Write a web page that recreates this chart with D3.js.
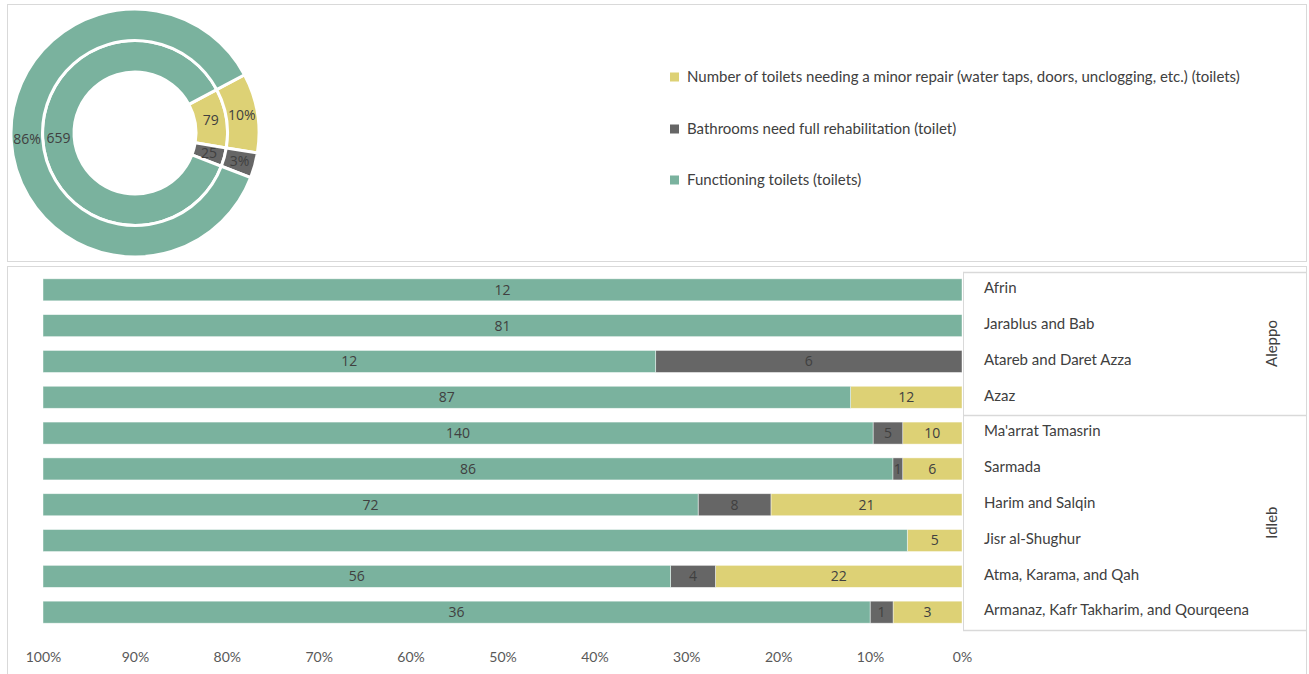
<!DOCTYPE html>
<html>
<head>
<meta charset="utf-8">
<script src="https://cdn.jsdelivr.net/npm/d3@7"></script>
<style>
  body { margin: 0; background: #fff; }
  svg { display: block; }
</style>
</head>
<body>
<svg id="chart" width="1309" height="674"></svg>
<script>
// ---------- DATA ----------
const seriesNames = [
  "Number of toilets needing a minor repair (water taps, doors, unclogging, etc.) (toilets)",
  "Bathrooms need full rehabilitation (toilet)",
  "Functioning toilets (toilets)"
];
const seriesKeys = ["minor", "full", "functioning"];
const seriesColors = ["#DDD175", "#666666", "#7AB29E"];

// donut totals (inner ring: counts, outer ring: shares)
const donutValues = [79, 25, 659];

// bar chart
const regions = ["Afrin", "Jarablus and Bab", "Atareb and Daret Azza", "Azaz",
  "Ma'arrat Tamasrin", "Sarmada", "Harim and Salqin", "Jisr al-Shughur",
  "Atma, Karama, and Qah", "Armanaz, Kafr Takharim, and Qourqeena"];
const governorates = ["Aleppo", "Aleppo", "Aleppo", "Aleppo",
  "Idleb", "Idleb", "Idleb", "Idleb", "Idleb", "Idleb"];
const minorRepair = [0, 0, 0, 12, 10, 6, 21, 5, 22, 3];
const fullRehab   = [0, 0, 6, 0, 5, 1, 8, 0, 4, 1];
const functioning = [12, 81, 12, 87, 140, 86, 72, 79, 56, 36];
const functioningLabelShown = [true, true, true, true, true, true, true, false, true, true];
const tickValues = [1, 0.9, 0.8, 0.7, 0.6, 0.5, 0.4, 0.3, 0.2, 0.1, 0];

// ---------- DRAW ----------
const svg = d3.select("#chart");
const labelFont = "'Open Sans', sans-serif";
const textFont = "Lato, sans-serif";
const borderCol = "#D9D9D9";

// panels
svg.append("rect").attr("x", 7.5).attr("y", 4.5).attr("width", 1299).attr("height", 257)
  .attr("fill", "none").attr("stroke", borderCol);
svg.append("rect").attr("x", 7.5).attr("y", 266.5).attr("width", 1299).attr("height", 420)
  .attr("fill", "none").attr("stroke", borderCol);

// ---- donut ----
const cx = 135, cy = 133;
const pie = d3.pie().sort(null).value(d => d)
  .startAngle(62 * Math.PI / 180).endAngle(62 * Math.PI / 180 + 2 * Math.PI);
const arcsData = pie(donutValues);
const total = d3.sum(donutValues);
const rings = [
  { inner: 61, outer: 92.5, label: d => d.data },
  { inner: 92.5, outer: 124, label: d => Math.round(d.data / total * 100) + "%" }
];
const gD = svg.append("g").attr("transform", `translate(${cx},${cy})`);
rings.forEach(r => {
  const arc = d3.arc().innerRadius(r.inner).outerRadius(r.outer);
  gD.selectAll(null).data(arcsData).enter().append("path")
    .attr("d", arc)
    .attr("fill", (d, i) => seriesColors[i])
    .attr("stroke", "#fff").attr("stroke-width", 3);
  gD.selectAll(null).data(arcsData).enter().append("text")
    .attr("transform", d => `translate(${arc.centroid(d)})`)
    .attr("text-anchor", "middle").attr("dy", "0.35em")
    .attr("font-family", labelFont).attr("font-size", 14)
    .attr("fill", "#404040")
    .text(r.label);
});

// ---- legend ----
const gL = svg.append("g");
const legendY = [77, 129, 180];
seriesNames.forEach((name, i) => {
  gL.append("rect").attr("x", 670).attr("y", legendY[i] - 4.5)
    .attr("width", 9).attr("height", 9).attr("fill", seriesColors[i]);
  gL.append("text").attr("x", 687).attr("y", legendY[i]).attr("dy", "0.35em")
    .attr("font-family", textFont).attr("font-size", 15).attr("fill", "#404040")
    .text(name);
});

// ---- bars ----
const x = d3.scaleLinear().domain([1, 0]).range([43, 962]);
const y = d3.scaleBand().domain(regions).range([272, 630]).paddingInner(0.385).paddingOuter(0.19);

const rows = regions.map((r, i) => {
  const vals = { minor: minorRepair[i], full: fullRehab[i], functioning: functioning[i] };
  const tot = vals.minor + vals.full + vals.functioning;
  let acc = 0;
  return seriesKeys.map((k, j) => {
    const s = { region: r, key: k, j, value: vals[k], x0: acc / tot, x1: (acc + vals[k]) / tot,
      showLabel: k === "functioning" ? functioningLabelShown[i] : vals[k] > 0 };
    acc += vals[k];
    return s;
  });
}).flat().filter(d => d.value > 0);

const gB = svg.append("g");
gB.selectAll("rect").data(rows).enter().append("rect")
  .attr("x", d => x(d.x1))
  .attr("width", d => x(d.x0) - x(d.x1))
  .attr("y", d => y(d.region))
  .attr("height", y.bandwidth())
  .attr("fill", d => seriesColors[d.j])
  .attr("stroke", "#fff").attr("stroke-opacity", 0.6).attr("stroke-width", 0.75);
gB.selectAll("text").data(rows.filter(d => d.showLabel)).enter().append("text")
  .attr("x", d => (x(d.x0) + x(d.x1)) / 2)
  .attr("y", d => y(d.region) + y.bandwidth() / 2)
  .attr("dy", "0.35em").attr("text-anchor", "middle")
  .attr("font-family", labelFont).attr("font-size", 14).attr("fill", "#404040")
  .text(d => d.value);

// x axis (labels only)
const gX = svg.append("g").attr("transform", "translate(0,657)");
gX.call(d3.axisBottom(x).tickValues(tickValues).tickFormat(d3.format(".0%")).tickSize(0).tickPadding(0))
  .call(g => g.select(".domain").remove())
  .call(g => g.selectAll("text").attr("dy", "0.35em")
    .attr("font-family", textFont).attr("font-size", 14).attr("fill", "#595959"));

// category table
const tableX0 = 963, tableX1 = 1307;
const gT = svg.append("g");
const groups = Array.from(d3.group(regions.map((r, i) => ({ r, g: governorates[i] })), d => d.g),
  ([g, items]) => ({ g, first: items[0].r, last: items[items.length - 1].r }));
const step = y.step();
const bandTop = r => y(r) + y.bandwidth() / 2 - step / 2;
const bandBot = r => y(r) + y.bandwidth() / 2 + step / 2;
gT.append("line").attr("x1", tableX0 + 0.5).attr("x2", tableX0 + 0.5)
  .attr("y1", bandTop(regions[0])).attr("y2", bandBot(regions[regions.length - 1]))
  .attr("stroke", borderCol);
const hLines = [bandTop(regions[0])].concat(groups.map(g => bandBot(g.last)));
hLines.forEach(yy => {
  gT.append("line").attr("x1", tableX0).attr("x2", tableX1)
    .attr("y1", Math.round(yy) + 0.5).attr("y2", Math.round(yy) + 0.5)
    .attr("stroke", borderCol).attr("stroke-width", 1.5);
});
gT.selectAll("text.cat").data(regions).enter().append("text")
  .attr("class", "cat")
  .attr("x", 984).attr("y", d => y(d) + y.bandwidth() / 2 - 2)
  .attr("dy", "0.35em")
  .attr("font-family", textFont).attr("font-size", 15).attr("fill", "#404040")
  .text(d => d);
groups.forEach(g => {
  const yc = (bandTop(g.first) + bandBot(g.last)) / 2;
  gT.append("text")
    .attr("transform", `translate(1272,${yc}) rotate(-90)`)
    .attr("text-anchor", "middle").attr("dy", "0.35em")
    .attr("font-family", textFont).attr("font-size", 15).attr("fill", "#404040")
    .text(g.g);
});
</script>
</body>
</html>
